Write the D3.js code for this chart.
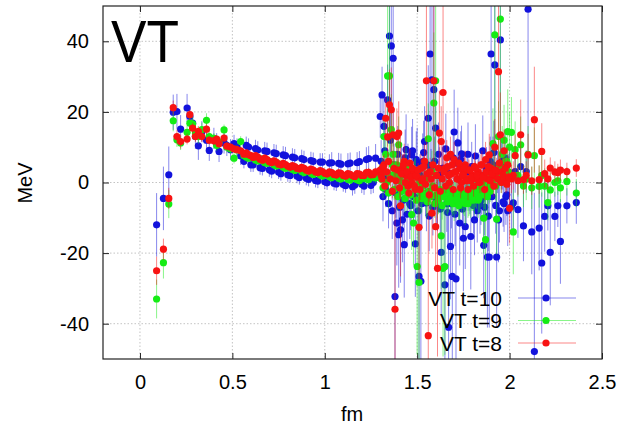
<!DOCTYPE html>
<html>
<head>
<meta charset="utf-8">
<script src="https://cdn.jsdelivr.net/npm/d3@7"></script>
<style>
  body { margin: 0; background: #fff; }
  text { font-family: "Liberation Sans", Arial, sans-serif; fill: #000; }
</style>
</head>
<body>
<div id="plot"></div>
<script>
// distance r in fm (shared by the three series)
const distFm = [
  0.09, 0.127, 0.156, 0.18, 0.20, 0.22, 0.255, 0.27, 0.285, 0.30, 0.316, 0.335, 0.36, 0.375, 0.40, 0.415, 0.428, 0.455, 0.47, 0.49, 0.509, 0.525, 0.545,
  0.575, 0.6, 0.625, 0.65, 0.675, 0.7, 0.725, 0.75, 0.775, 0.8, 0.825, 0.85, 0.875, 0.9, 0.925, 0.95, 0.975, 1.0, 1.025, 1.05, 1.075, 1.1, 1.125, 1.15, 1.175, 1.2, 1.225, 1.25, 1.275,
  1.30, 1.31, 1.32, 1.33, 1.34, 1.35, 1.36, 1.37, 1.38, 1.39, 1.40, 1.41, 1.42, 1.43, 1.44, 1.45, 1.46, 1.47, 1.48, 1.49,
  1.50, 1.51, 1.52, 1.53, 1.54, 1.55, 1.56, 1.57, 1.58, 1.59, 1.60, 1.61, 1.62, 1.63, 1.64, 1.65, 1.66, 1.67, 1.68, 1.69,
  1.70, 1.71, 1.72, 1.73, 1.74, 1.75, 1.76, 1.77, 1.78, 1.79, 1.80, 1.81, 1.82, 1.83, 1.84, 1.85, 1.86, 1.87, 1.88, 1.89,
  1.90, 1.91, 1.92, 1.93, 1.94, 1.95, 1.96, 1.97, 1.98, 1.99, 2.00,
  2.01, 2.02, 2.03, 2.045, 2.06, 2.075, 2.09, 2.10, 2.12, 2.134, 2.16, 2.174, 2.19, 2.207, 2.22, 2.245, 2.261, 2.275, 2.31, 2.361,
  // in-between lattice distances
  0.5625, 0.5875, 0.6125, 0.6375, 0.6625, 0.6875, 0.7125, 0.7375, 0.7625, 0.7875, 0.8125, 0.8375, 0.8625, 0.8875, 0.9125,
  0.9375, 0.9625, 0.9875, 1.0125, 1.0375, 1.0625, 1.0875, 1.1125, 1.1375, 1.1625, 1.1875, 1.2125, 1.2375, 1.2625,
  1.305, 1.315, 1.325, 1.335, 1.345, 1.355, 1.365, 1.375, 1.385, 1.395,
  1.405, 1.415, 1.425, 1.435, 1.445, 1.455, 1.465, 1.475, 1.485, 1.495,
  1.505, 1.515, 1.525, 1.535, 1.545, 1.555, 1.565, 1.575, 1.585, 1.595,
  1.605, 1.615, 1.625, 1.635, 1.645, 1.655, 1.665, 1.675, 1.685, 1.695,
  1.705, 1.715, 1.725, 1.735, 1.745, 1.755, 1.765, 1.775, 1.785, 1.795,
  1.805, 1.815, 1.825, 1.835, 1.845, 1.855, 1.865, 1.875, 1.885, 1.895,
  1.905, 1.915, 1.925, 1.935, 1.945, 1.955, 1.965, 1.975, 1.985, 1.995
]

// VT t=10 (MeV) and its errors
const vtT10 = [
  -12, -4.5, 2.2, 19.9, 20.1, 15.1, 21.1, 18.7, 16.8, 13, 10.4, 14.4, 12, 9.1, 12.5, 11, 8.8, 11.2, 10.5, 9.3, 11, 10, 7.5,
  10.5, 5.0, 9.6, 4.2, 9.0, 3.6, 8.4, 3.0, 7.8, 2.2, 7.2, 1.8, 6.8, 1.2, 6.2, 0.6, 5.8, 0.2, 5.5, -0.2, 5.4, -0.6, 5.3, -1.2, 5.6, -0.5, 6.5, -0.8, 6.9,
  18.7, 24.8, 15.9, -2.0, 23.4, 41.5, 38.7, 35.2, -32.3, -11.5, -14.8, -13.4, -10.6, -17.6, 9.3, 3.0, -6.0, 7.8, -4.0, -17.4,
  5.5, -26.6, -28.0, 5.9, 11.6, -5.8, 18.2, 36.4, 29.1, 26.3, 15.4, -5.8, 2.0, -19.8, 4.0, -29.0, -6.0, -41.0, -18.1, -26.6,
  14.3, -27.3, 11.2, -11.5, 8.1, -15.8, -12.5, 3.0, -2.0, -15.3, 1.0, -10.6, -4.0, 2.5, -6.5, -3.0, -17.8, -2.0, -21.1, -21.1,
  36.4, 5.0, 33.3, -21.1, -10.6, 40.4, 6.0, -6.0, -4.0, -8.0, 2.0,
  -6.8, -5.8, 3.1, -7.7, 4.5, -12.3, 3.1, 49.1, -14.0, -47.9, -12.9, -22.8, -9.6, -6.6, -19.8, -9.6, -6.6, -16.7, -6.6, -5.7,
  6.0, 10.0, 5.0, 9.2, 4.0, 8.8, 3.2, 8.2, 2.5, 7.6, 2.0, 7.0, 1.4, 6.5, 0.9,
  6.0, 0.4, 5.8, -0.1, 5.6, -0.4, 5.2, -0.9, 5.5, -0.7, 5.9, -1.0, 6.8, 0.0,
  6.0, -4.0, 9.0, 2.0, -6.0, 12.0, -8.0, 5.0, -3.0, 8.0,
  -7.0, 4.0, -5.0, 7.0, -9.0, 3.0, -6.5, 9.0, -4.0, 6.5,
  -8.0, 2.0, -6.0, 8.5, -3.5, 5.0, -9.5, 3.5, -7.0, 6.0,
  -5.0, 8.0, -7.5, 4.0, -3.0, 9.5, -8.5, 2.5, -6.0, 7.0,
  -9.0, 5.5, -4.5, 6.5, -7.5, 3.0, -5.5, 8.0, -3.0, 4.5,
  -6.5, 7.5, -8.0, 2.0, -5.0, 9.0, -7.0, 4.0, -9.5, 6.0,
  -4.0, 8.5, -6.5, 3.0, -8.0, 5.0, -5.5, 7.0, -3.5, 2.0
]
const errT10 = [
  9, 9, 8, 5, 5, 4, 4, 3, 3, 3.5, 4, 3, 3, 3, 3, 3, 3, 3, 3, 3, 2.5, 2.5, 2.5,
  2.5, 2, 2.5, 2, 2.5, 2, 2.5, 2, 2.5, 2, 2.5, 2, 2.5, 2, 2.5, 2, 2.5, 2, 2.5, 2, 3, 2, 3, 2.5, 3, 2.5, 3.5, 2.5, 4,
  6, 8, 8, 5, 10, 30, 30, 25, 30, 12, 15, 15, 12, 15, 10, 8, 10, 8, 8, 15,
  10, 25, 25, 8, 10, 8, 15, 35, 25, 25, 12, 8, 8, 18, 8, 25, 8, 40, 15, 25,
  12, 25, 10, 12, 8, 15, 12, 6, 6, 15, 6, 10, 6, 6, 8, 6, 15, 8, 20, 20,
  35, 8, 30, 20, 12, 40, 8, 8, 8, 10, 8,
  8, 8, 6, 8, 6, 10, 6, 45, 12, 45, 12, 20, 10, 7, 15, 7, 6, 12, 5, 6,
  2, 2.5, 2, 2.5, 2, 2.5, 2, 2.5, 2, 2.5, 2, 2.5, 2, 2.5, 2,
  2.5, 2, 2.5, 2, 3, 2, 3, 2, 3, 2.5, 3, 2.5, 3.5, 3,
  6, 7, 8, 6, 7, 9, 8, 6, 7, 8,
  8, 6, 7, 8, 9, 6, 7, 9, 6, 8,
  9, 6, 7, 9, 6, 8, 10, 6, 8, 7,
  7, 9, 8, 6, 6, 10, 9, 6, 7, 8,
  9, 7, 6, 8, 8, 6, 7, 9, 6, 7,
  8, 9, 9, 6, 7, 10, 8, 6, 10, 7,
  6, 9, 8, 6, 9, 7, 7, 8, 6, 6
]

// VT t=9
const vtT9 = [
  -33, -22.7, -6.1, 17.5, 12.1, 11.2, 14.2, 16.8, 16.6, 14, 13, 15, 17.6, 13, 12.5, 10.5, 11.5, 14.9, 10, 9.5, 6.9, 9.2, 11.6,
  7.2, 7.5, 6.4, 6.8, 5.6, 6.0, 5.0, 5.3, 4.3, 4.6, 3.7, 4.0, 3.1, 3.4, 2.6, 2.9, 2.1, 2.4, 1.6, 2.0, 1.2, 1.7, 0.9, 1.5, 0.8, 1.4, 1.0, 1.6, 1.3,
  2.0, 4.0, 13.0, 8.0, 30.2, 30.2, 15.0, 8.0, 3.0, 5.0, 10.7, 2.0, -2.0, 0.0, 4.0, -3.0, 1.0, -9.1, -11.5, 2.0,
  -23.8, -28.3, -3.0, -1.0, 1.0, -4.0, 12.4, -3.0, 3.0, 22.5, 28.8, -4.0, -3.5, -15.1, -24.3, -23.8, -4.0, -3.5, -2.0, -4.5,
  -4.9, -4.0, -3.0, -5.5, -3.5, -4.0, -6.0, -3.0, -4.5, -5.0, -3.0, -4.0, -2.5, -5.0, -3.5, -2.0, -10.1, -16.2, -4.0, -1.0,
  4.0, 11.0, 41.8, -10.4, 13.0, 46.3, 8.0, 12.0, 6.0, 14.4, 10.0,
  14.2, -14.0, 9.3, 2.0, 10.7, -1.0, 1.0, 8.0, -1.5, 7.6, -1.1, 2.0, -1.0, -5.7, -2.1, 0.0, 0.5, -1.5, 0.3, -3.0,
  7.6, 6.9, 7.0, 6.1, 6.2, 5.4, 5.6, 4.7, 4.9, 4.0, 4.2, 3.4, 3.7, 2.8, 3.2,
  2.3, 2.7, 1.8, 2.3, 1.4, 1.9, 1.0, 1.6, 0.7, 1.3, 0.5, 1.2, 0.8, 1.5,
  1.0, -1.5, 3.0, 0.0, -3.0, 2.0, 5.0, -2.0, 1.5, -4.0,
  0.5, -2.5, 3.0, -4.5, -1.0, 1.5, -3.5, -0.5, 2.5, -5.0,
  -2.0, 0.0, -4.5, -3.0, 1.0, -5.5, -2.5, -4.0, -1.0, -6.0,
  -3.5, -5.0, -2.0, -6.5, -4.0, -3.0, -5.5, -1.5, -4.5, -6.0,
  -3.0, -5.0, -6.5, -2.5, -4.5, -5.5, -3.5, -6.0, -2.0, -4.0,
  -5.0, -3.0, -1.0, -4.5, -2.0, 0.0, -3.5, -1.5, 1.0, -2.5,
  0.5, 3.0, -1.0, 2.0, 5.0, 0.0, 4.0, 1.5, 6.0, 3.0
]
const errT9 = [
  5.5, 4.5, 4, 3, 2, 2, 2, 2, 2, 2, 2, 2, 2, 2, 1.5, 1.5, 1.5, 1.5, 1.5, 1.5, 1.5, 1.5, 1.5,
  1, 1, 1, 1, 1, 1, 1, 1, 1, 1, 1, 1, 1, 1, 1, 1, 1, 1, 1, 1, 1.2, 1.2, 1.2, 1.2, 1.2, 1.5, 1.5, 1.5, 1.5,
  2, 3, 6, 6, 20, 25, 10, 8, 6, 5, 8, 6, 5, 5, 6, 5, 5, 10, 12, 5,
  25, 30, 6, 5, 5, 6, 10, 5, 6, 20, 30, 6, 5, 15, 25, 25, 5, 5, 5, 5,
  6, 5, 5, 5, 5, 5, 6, 5, 5, 5, 5, 5, 5, 5, 5, 5, 10, 15, 6, 5,
  6, 10, 40, 10, 10, 45, 8, 10, 8, 12, 10,
  10, 12, 8, 6, 8, 6, 6, 8, 6, 8, 6, 6, 5, 5, 5, 4, 4, 4, 4, 4,
  1, 1, 1, 1, 1, 1, 1, 1, 1, 1, 1, 1, 1, 1, 1,
  1, 1, 1, 1, 1.2, 1.2, 1.2, 1.2, 1.2, 1.5, 1.5, 1.5, 1.5, 1.5,
  3, 3, 4, 3, 4, 3, 4, 3, 3, 4,
  3, 4, 3, 4, 3, 3, 4, 3, 4, 3,
  4, 3, 4, 3, 3, 4, 3, 4, 3, 4,
  3, 4, 3, 4, 3, 3, 4, 3, 4, 3,
  4, 3, 4, 3, 3, 4, 3, 4, 3, 4,
  3, 4, 3, 4, 3, 3, 4, 3, 4, 3,
  4, 3, 4, 3, 4, 3, 4, 3, 4, 3
]

// VT t=8
const vtT8 = [
  -25, -18.9, -4.5, 21.2, 13, 11.6, 12.3, 19.2, 15.4, 13, 14.5, 13, 15.1, 12, 11.8, 12.3, 11, 12.6, 10.3, 10, 9.5, 9.3, 9,
  8.4, 7.6, 7.6, 6.6, 6.9, 5.9, 6.1, 5.2, 5.4, 4.6, 4.8, 4.0, 4.3, 3.5, 3.8, 3.0, 3.4, 2.6, 3.0, 2.3, 2.7, 2.0, 2.5, 1.9, 2.5, 2.0, 2.8, 2.2, 3.0,
  3.5, 1.0, 5.0, 18.2, 12.9, 22.0, 20.6, 13.5, -35.9, 13.0, 14.0, -6.6, 4.0, 6.0, 2.0, -1.0, 5.5, 0.0, 3.0, -2.0,
  1.5, -12.7, 4.0, 1.0, 6.0, 28.8, -43.4, 3.0, -8.7, 28.8, -12.5, -24.3, 14.0, 11.6, 25.5, 4.0, 7.0, 2.0, 8.0, 5.0,
  6.5, 3.0, 1.0, 4.0, 0.0, 2.5, 5.0, 1.0, 3.5, 0.5, 2.0, 4.5, 1.0, 3.0, 0.0, 5.0, 2.0, 6.5, 1.0, 7.8,
  4.0, 2.0, 10.0, 3.0, 31.4, 13.5, 3.0, 9.0, 1.0, 5.0, -7.3,
  1.0, 2.0, 7.6, 0.5, 13.5, 0.8, 2.0, 7.8, 0.5, 17.8, 0.8, 8.8, 2.5, 1.0, 4.1, 3.0, 2.8, 3.5, 3.1, 4.1,
  8.0, 7.9, 7.1, 7.2, 6.3, 6.5, 5.6, 5.8, 5.0, 5.1, 4.3, 4.5, 3.8, 4.0, 3.2,
  3.5, 2.8, 3.1, 2.4, 2.8, 2.1, 2.6, 1.8, 2.3, 1.7, 2.4, 2.0, 2.9, 2.3,
  2.0, 4.5, -1.0, 3.0, 6.0, 1.0, -2.5, 4.0, 0.5, 3.5,
  -1.5, 2.5, 5.0, 0.0, 3.0, -3.0, 1.5, 4.0, -1.0, 2.0,
  3.5, -2.0, 0.5, 4.5, -0.5, 2.5, -3.5, 1.0, 5.0, -1.5,
  2.0, 4.0, -2.5, 1.0, 3.0, -1.0, 4.5, 0.0, 2.5, -2.0,
  3.0, 1.0, 5.5, -1.5, 2.0, 4.0, 0.5, -2.0, 3.5, 1.5,
  -1.0, 4.0, 2.0, 0.0, 5.0, 1.5, -2.0, 3.0, 4.5, 0.5,
  2.5, -1.0, 3.5, 1.0, 5.5, 0.0, 2.0, 4.0, -0.5, 1.5
]
const errT8 = [
  4, 3, 3, 2, 2, 2, 1.5, 1.5, 1.5, 1.5, 1.5, 1.5, 1.5, 1.2, 1.2, 1.2, 1.2, 1.2, 1.2, 1, 1, 1, 1,
  0.8, 0.8, 0.8, 0.8, 0.8, 0.8, 0.8, 0.8, 0.8, 0.8, 0.8, 0.8, 0.8, 0.8, 0.8, 0.8, 0.8, 0.8, 0.8, 0.8, 1, 1, 1, 1, 1, 1, 1.2, 1.2, 1.2,
  1.5, 2, 3, 6, 6, 10, 12, 8, 40, 8, 9, 20, 4, 5, 3, 3, 4, 3, 3, 4,
  3, 15, 4, 3, 5, 30, 45, 4, 10, 30, 12, 25, 12, 10, 25, 4, 5, 3, 5, 4,
  5, 3, 3, 4, 3, 3, 4, 3, 3, 3, 3, 4, 3, 3, 3, 4, 3, 5, 3, 6,
  5, 4, 8, 4, 30, 12, 4, 6, 4, 5, 10,
  4, 4, 6, 4, 10, 4, 4, 6, 4, 15, 4, 8, 4, 3, 3, 3, 2.5, 3, 2.5, 2.5,
  0.8, 0.8, 0.8, 0.8, 0.8, 0.8, 0.8, 0.8, 0.8, 0.8, 0.8, 0.8, 0.8, 0.8, 0.8,
  0.8, 0.8, 0.8, 0.8, 1, 1, 1, 1, 1, 1, 1.2, 1.2, 1.2, 1.2,
  2, 3, 2, 3, 2, 3, 2, 3, 2, 3,
  3, 2, 3, 2, 3, 2, 3, 2, 3, 2,
  2, 3, 2, 3, 2, 3, 2, 3, 2, 3,
  3, 2, 3, 2, 3, 2, 3, 2, 3, 2,
  2, 3, 2, 3, 2, 3, 2, 3, 2, 3,
  3, 2, 3, 2, 3, 2, 3, 2, 3, 2,
  2, 3, 2, 3, 2, 3, 2, 3, 2, 3
]

const seriesNames = ['VT t=10', 'VT t=9', 'VT t=8']
const xTicks = [0, 0.5, 1, 1.5, 2, 2.5]
const xTickLabels = ['0', '0.5', '1', '1.5', '2', '2.5']
const yTicks = [-40, -20, 0, 20, 40]
const yTickLabels = ['-40', '-20', '0', '20', '40']

const width = 622
const height = 428
const plot = {left: 103, right: 602, top: 6, bottom: 359}

const svg = d3.select('#plot')
  .append('svg')
  .attr('width', width)
  .attr('height', height)

svg.append('rect')
  .attr('width', width)
  .attr('height', height)
  .attr('fill', 'white')

const x = d3.scaleLinear().domain([-0.2, 2.5]).range([plot.left, plot.right])
const y = d3.scaleLinear().domain([-50, 50]).range([plot.bottom, plot.top])

svg.append('clipPath').attr('id', 'clip')
  .append('rect')
  .attr('x', plot.left)
  .attr('y', plot.top)
  .attr('width', plot.right - plot.left)
  .attr('height', plot.bottom - plot.top)

// grid
const grid = svg.append('g')
  .attr('stroke', '#b4b4b4')
  .attr('stroke-width', 0.8)
  .attr('stroke-dasharray', '1.5,2')
grid.selectAll('.gx')
  .data(xTicks.filter(d => d < 2.5))
  .enter()
  .append('line')
  .attr('x1', d => x(d)).attr('x2', d => x(d))
  .attr('y1', plot.top).attr('y2', plot.bottom)
grid.selectAll('.gy')
  .data(yTicks)
  .enter()
  .append('line')
  .attr('y1', d => y(d)).attr('y2', d => y(d))
  .attr('x1', plot.left).attr('x2', plot.right)

// axes, ticks pointing inward on all four sides
function styleAxis(g) {
  g.select('.domain').remove()
  g.selectAll('line').attr('stroke', '#222')
  g.selectAll('text').attr('font-size', 20).attr('fill', '#000')
    .style('font-family', '"Liberation Sans", Arial, sans-serif')
}

svg.append('g')
  .attr('transform', 'translate(0,' + plot.bottom + ')')
  .call(d3.axisBottom(x).tickValues(xTicks).tickSize(-6).tickPadding(16)
    .tickFormat((d, i) => xTickLabels[i]))
  .call(styleAxis)

svg.append('g')
  .attr('transform', 'translate(0,' + plot.top + ')')
  .call(d3.axisTop(x).tickValues(xTicks).tickSize(-6).tickFormat(''))
  .call(styleAxis)

svg.append('g')
  .attr('transform', 'translate(' + plot.left + ',0)')
  .call(d3.axisLeft(y).tickValues(yTicks).tickSize(-6).tickPadding(14)
    .tickFormat((d, i) => yTickLabels[i]))
  .call(styleAxis)

svg.append('g')
  .attr('transform', 'translate(' + plot.right + ',0)')
  .call(d3.axisRight(y).tickValues(yTicks).tickSize(-6).tickFormat(''))
  .call(styleAxis)

// data
const series = [
  {name: seriesNames[0], vals: vtT10, errs: errT10, color: '#1212dc'},
  {name: seriesNames[1], vals: vtT9, errs: errT9, color: '#14ec14'},
  {name: seriesNames[2], vals: vtT8, errs: errT8, color: '#f81212'}
]

const dataLayer = svg.append('g').attr('clip-path', 'url(#clip)')

series.forEach(s => {
  const pts = distFm.map((r, i) => ({r: r, v: s.vals[i], e: s.errs[i]}))
  const g = dataLayer.append('g')
  g.selectAll('line')
    .data(pts)
    .enter()
    .append('line')
    .attr('x1', d => x(d.r)).attr('x2', d => x(d.r))
    .attr('y1', d => y(d.v - d.e)).attr('y2', d => y(d.v + d.e))
    .attr('stroke', s.color)
    .attr('stroke-opacity', 0.5)
    .attr('stroke-width', 1)
  g.selectAll('circle')
    .data(pts)
    .enter()
    .append('circle')
    .attr('cx', d => x(d.r))
    .attr('cy', d => y(d.v))
    .attr('r', 3.6)
    .attr('fill', s.color)
})

// frame
svg.append('rect')
  .attr('x', plot.left)
  .attr('y', plot.top)
  .attr('width', plot.right - plot.left)
  .attr('height', plot.bottom - plot.top)
  .attr('fill', 'none')
  .attr('stroke', '#222')
  .attr('stroke-width', 1.2)

// big label
svg.append('text')
  .attr('x', 111)
  .attr('y', 62)
  .attr('font-size', 60)
  .attr('textLength', 68)
  .attr('lengthAdjust', 'spacingAndGlyphs')
  .text('VT')

// axis titles
svg.append('text')
  .attr('x', 352)
  .attr('y', 421)
  .attr('text-anchor', 'middle')
  .attr('font-size', 20)
  .text('fm')

svg.append('text')
  .attr('transform', 'translate(32,183) rotate(-90)')
  .attr('text-anchor', 'middle')
  .attr('font-size', 20)
  .text('MeV')

// key
const key = svg.append('g')
series.forEach((s, i) => {
  const ky = 298 + i * 22.5
  key.append('text')
    .attr('x', 502)
    .attr('y', ky)
    .attr('dy', '0.36em')
    .attr('text-anchor', 'end')
    .attr('font-size', 21)
    .text(s.name)
  key.append('line')
    .attr('x1', 518).attr('x2', 576)
    .attr('y1', ky).attr('y2', ky)
    .attr('stroke', s.color)
    .attr('stroke-opacity', 0.5)
  key.append('circle')
    .attr('cx', 546).attr('cy', ky)
    .attr('r', 3.6)
    .attr('fill', s.color)
})
</script>
</body>
</html>
